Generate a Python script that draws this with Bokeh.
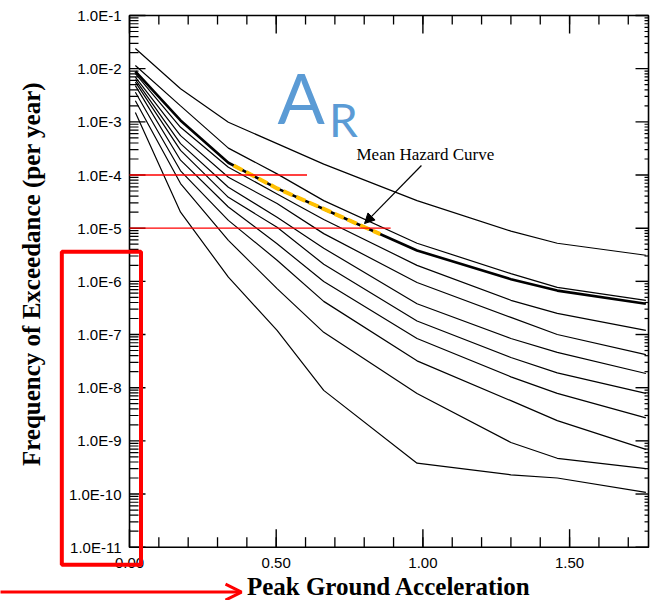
import numpy as np
from bokeh.plotting import figure
from bokeh.models import (Range1d, FixedTicker, CustomJSTickFormatter, PrintfTickFormatter,
                          Label, Arrow, NormalHead, OpenHead, PolyAnnotation)
from bokeh.embed import file_html
from bokeh.resources import INLINE

# ---------------- data ----------------
pga = [0.02, 0.174, 0.337, 0.503, 0.662, 0.98, 1.30, 1.458, 1.76]

curve_1 = [2.4e-2, 4.2e-3, 9.8e-4, 3.9e-4, 1.6e-4, 3.3e-5, 8.8e-6, 5.2e-6, 3.1e-6]
curve_2 = [1.15e-2, 2.0e-3, 3.2e-4, 1.05e-4, 3.3e-5, 5.2e-6, 1.4e-6, 7.7e-7, 4.4e-7]
curve_3 = [8.1e-3, 7.9e-4, 1.4e-4, 4.4e-5, 1.46e-5, 2.0e-6, 4.4e-7, 2.5e-7, 1.2e-7]
curve_4 = [6.9e-3, 5.5e-4, 9.1e-5, 2.9e-5, 7.9e-6, 9.5e-7, 2.1e-7, 1.0e-7, 4.2e-8]
curve_5 = [6.2e-3, 3.9e-4, 5.9e-5, 1.6e-5, 4.2e-6, 3.8e-7, 8.4e-8, 4.6e-8, 1.85e-8]
curve_6 = [5.6e-3, 2.9e-4, 3.8e-5, 1.04e-5, 2.1e-6, 1.8e-7, 3.7e-8, 1.9e-8, 7.8e-9]
curve_7 = [4.8e-3, 1.9e-4, 2.5e-5, 5.1e-6, 9.9e-7, 8.4e-8, 1.6e-8, 7.8e-9, 2.7e-9]
curve_8 = [3.6e-3, 1.2e-4, 1.4e-5, 2.5e-6, 4.2e-7, 3.2e-8, 5.7e-9, 2.4e-9, 6.9e-10]
curve_9 = [2.5e-3, 6.9e-5, 5.9e-6, 7.3e-7, 1.1e-7, 7.8e-9, 9.3e-10, 4.7e-10, 3.0e-10]
curve_10 = [1.5e-3, 2.0e-5, 1.2e-6, 1.2e-7, 8.9e-9, 3.8e-10, 2.3e-10, 2.0e-10, 1.07e-10]
thin_curves = [curve_1, curve_2, curve_3, curve_4, curve_5, curve_6, curve_7, curve_8, curve_9, curve_10]

mean_curve = [8.9e-3, 1.06e-3, 1.7e-4, 5.6e-5, 2.3e-5, 3.8e-6, 1.1e-6, 6.7e-7, 3.8e-7]

highlight_range = [0.355, 0.855]          # orange dashed part of the mean curve
ref_levels = [1e-4, 1e-5]                 # red horizontal reference lines
ref_ends = [0.605, 0.89]

x_bounds = (0.0, 1.769)
y_bounds = (1e-11, 1e-1)
x_ticks = [0.0, 0.5, 1.0, 1.5]
x_minor = [0.1 * i for i in range(1, 18)]
y_ticks = [10.0 ** e for e in range(-11, 0)]
y_minor = [k * 10.0 ** e for e in range(-11, -1) for k in range(2, 10)]

# ---------------- figure ----------------
W, H = 654, 600
XR = (-0.4397, 1.7894)
YR = (9.94e-13, 0.1915)
XPP = (XR[1] - XR[0]) / W                          # data units per pixel (x)
DPP = (np.log10(YR[1]) - np.log10(YR[0])) / H      # decades per pixel (y)

p = figure(width=W, height=H, x_range=Range1d(*XR), y_range=Range1d(*YR),
           y_axis_type="log", x_axis_type="linear",
           output_backend="svg", toolbar_location=None,
           min_border_left=0, min_border_right=0, min_border_top=0, min_border_bottom=0,
           background_fill_color="white", border_fill_color="white")
p.xgrid.visible = False
p.ygrid.visible = False
p.outline_line_color = None


def no_ticks(ax):
    ax.major_tick_in = 0
    ax.major_tick_out = 0
    ax.minor_tick_in = 0
    ax.minor_tick_out = 0
    ax.major_tick_line_color = None
    ax.minor_tick_line_color = None
    ax.axis_line_color = None


xa = p.xaxis[0]
xa.ticker = FixedTicker(ticks=x_ticks, minor_ticks=x_minor)
xa.formatter = PrintfTickFormatter(format="%.2f")
xa.fixed_location = y_bounds[0]
xa.bounds = x_bounds
no_ticks(xa)
xa.major_label_text_font = "Liberation Sans"
xa.major_label_text_font_size = "15px"
xa.major_label_text_color = "black"
xa.major_label_standoff = 11
xa.axis_label = "Peak Ground Acceleration"
xa.axis_label_text_font = "Liberation Serif"
xa.axis_label_text_font_style = "bold"
xa.axis_label_text_font_size = "25px"
xa.axis_label_text_color = "black"
xa.axis_label_standoff = 1

ya = p.yaxis[0]
ya.ticker = FixedTicker(ticks=y_ticks, minor_ticks=y_minor)
ya.formatter = CustomJSTickFormatter(code="return '1.0E' + Math.round(Math.log10(tick));")
ya.fixed_location = x_bounds[0]
ya.bounds = (y_bounds[0], 0.19)      # a little taller so the title sits as in the original
no_ticks(ya)
ya.major_label_text_font = "Liberation Sans"
ya.major_label_text_font_size = "15px"
ya.major_label_text_color = "black"
ya.major_label_standoff = 8
ya.axis_label = "Frequency of Exceedance (per year)"
ya.axis_label_text_font = "Liberation Serif"
ya.axis_label_text_font_style = "bold"
ya.axis_label_text_font_size = "25px"
ya.axis_label_text_color = "black"
ya.axis_label_standoff = 21

# ---------------- frame box and inward ticks ----------------
p.quad(left=[x_bounds[0]], right=[x_bounds[1]], bottom=[y_bounds[0]], top=[y_bounds[1]],
       fill_color=None, line_color="black", line_width=1.6)


def xticks(vals, y0, length_px, up, width):
    f = 10 ** (length_px * DPP)
    y1 = y0 * f if up else y0 / f
    p.segment(x0=vals, y0=[y0] * len(vals), x1=vals, y1=[y1] * len(vals),
              line_color="black", line_width=width)


def yticks(vals, x0, length_px, right, width):
    x1 = x0 + length_px * XPP if right else x0 - length_px * XPP
    p.segment(x0=[x0] * len(vals), y0=vals, x1=[x1] * len(vals), y1=vals,
              line_color="black", line_width=width)


xticks(x_ticks, y_bounds[0], 18, True, 1.4)
xticks(x_minor, y_bounds[0], 10, True, 1.3)
xticks(x_ticks, y_bounds[1], 18, False, 1.4)
xticks(x_minor, y_bounds[1], 9, False, 1.3)
yticks(y_ticks, x_bounds[0], 16, True, 1.4)
yticks(y_minor, x_bounds[0], 9, True, 1.2)
yticks(y_ticks, x_bounds[1], 13, False, 1.4)
yticks(y_minor, x_bounds[1], 4, False, 1.2)

# ---------------- curves ----------------
for c in thin_curves:
    p.line(pga, c, line_color="black", line_width=1.2)
p.line(pga, mean_curve, line_color="black", line_width=2.6)

lo, hi = highlight_range
hx = [lo] + [x for x in pga if lo < x < hi] + [hi]
hy = list(10 ** np.interp(hx, pga, np.log10(mean_curve)))
p.line(hx, hy, line_color="#FFC000", line_width=4, line_dash="10 4")

p.segment(x0=[x_bounds[0]] * len(ref_levels), y0=ref_levels, x1=ref_ends, y1=ref_levels,
          line_color="#FF0000", line_width=1.3)

# ---------------- annotations ----------------
p.add_layout(Label(x=0.5044, y=2.97e-3, text="A", text_font="Lato", text_font_size="70px",
                   text_color="#5B9BD5", text_baseline="middle", text_align="left"))
p.add_layout(Label(x=0.6803, y=1.11e-3, text="R", text_font="Lato", text_font_size="46px",
                   text_color="#5B9BD5", text_baseline="middle", text_align="left"))
p.add_layout(Label(x=0.7737, y=2.47e-4, text="Mean Hazard Curve", text_font="Liberation Serif",
                   text_font_size="17px", text_color="black", text_baseline="middle",
                   text_align="left"))
p.add_layout(Arrow(x_start=0.995, y_start=1.51e-4, x_end=0.801, y_end=1.22e-5,
                   line_color="black", line_width=1.2,
                   end=NormalHead(size=10, fill_color="black", line_color="black")))

p.add_layout(PolyAnnotation(xs=[-0.2307, 0.0392, 0.0392, -0.2307],
                            ys=[3.60e-6, 3.60e-6, 4.67e-12, 4.67e-12],
                            line_color="#FF0000", line_alpha=1.0, line_width=4,
                            fill_alpha=0))
p.add_layout(Arrow(x_start=-0.45, y_start=1.43e-12, x_end=0.3817, y_end=1.43e-12,
                   line_color="#FF0000", line_width=3,
                   end=OpenHead(size=16, line_color="#FF0000", line_width=3)))

open("out.html", "w").write(file_html(p, INLINE))
